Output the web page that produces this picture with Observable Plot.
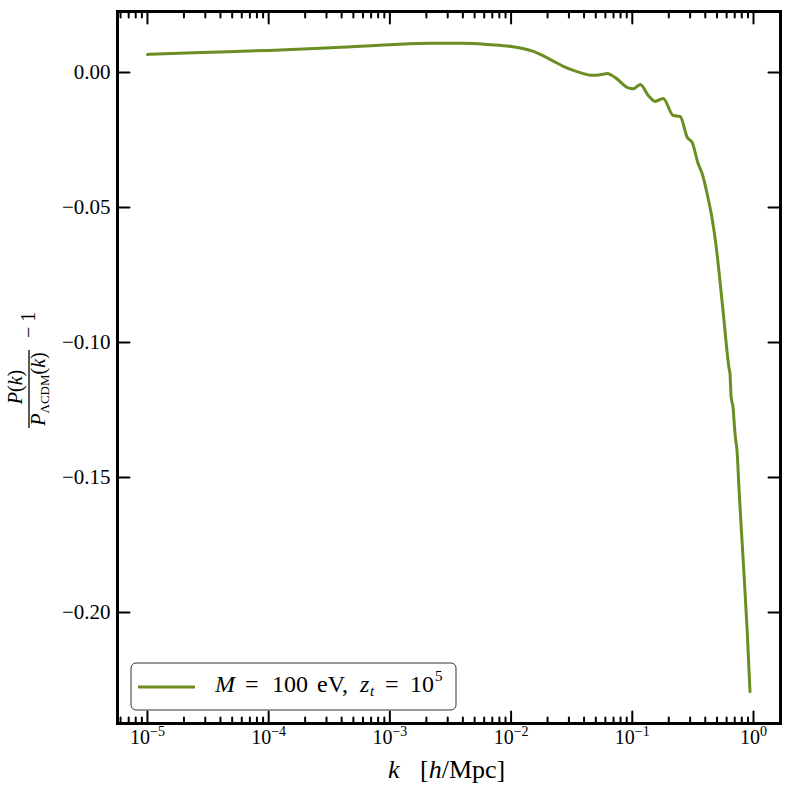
<!DOCTYPE html>
<html><head><meta charset="utf-8">
<script src="https://cdn.jsdelivr.net/npm/d3@7"></script>
<script src="https://cdn.jsdelivr.net/npm/@observablehq/plot@0.6"></script>
<style>body{margin:0;background:#fff} svg{font-family:"Liberation Serif",serif}</style>
</head><body><div id="chart"></div>
<script>
// log10(k [h/Mpc]) and P(k)/P_LCDM(k) - 1
const logK = [-5.0,-4.556,-3.996,-3.486,-3.0,-2.663,-2.416,-2.169,-1.996,-1.815,-1.675,-1.535,-1.403,-1.346,-1.263,-1.206,-1.14,-1.033,-0.992,-0.934,-0.868,-0.811,-0.745,-0.663,-0.605,-0.547,-0.506,-0.457,-0.424,-0.383,-0.342,-0.309,-0.276,-0.243,-0.218,-0.202,-0.194,-0.185,-0.169,-0.152,-0.144,-0.136,-0.119,-0.086,-0.053,-0.029];
const ratio = [0.0067,0.0074,0.0082,0.0092,0.0103,0.0108,0.0108,0.0103,0.0096,0.0078,0.0048,0.0016,-0.0004,-0.0010,-0.0008,-0.0004,-0.0019,-0.0057,-0.0060,-0.0044,-0.0085,-0.0107,-0.0096,-0.0159,-0.0163,-0.0240,-0.0259,-0.0337,-0.0374,-0.0448,-0.0540,-0.0640,-0.0775,-0.0920,-0.1035,-0.1095,-0.1115,-0.1200,-0.1240,-0.1340,-0.1370,-0.1400,-0.1548,-0.1800,-0.2060,-0.2293];
const xMajor = [1e-5,1e-4,1e-3,1e-2,1e-1,1];
const xMinor = [6e-6,7e-6,8e-6,9e-6,
  2e-5,3e-5,4e-5,5e-5,6e-5,7e-5,8e-5,9e-5,
  2e-4,3e-4,4e-4,5e-4,6e-4,7e-4,8e-4,9e-4,
  2e-3,3e-3,4e-3,5e-3,6e-3,7e-3,8e-3,9e-3,
  2e-2,3e-2,4e-2,5e-2,6e-2,7e-2,8e-2,9e-2,
  2e-1,3e-1,4e-1,5e-1,6e-1,7e-1,8e-1,9e-1];
const yTicks = [0,-0.05,-0.1,-0.15,-0.2];
const lineColor = "#6b8e23";

const data = logK.map((l,i)=>({k: Math.pow(10,l), r: ratio[i]}));

const tickOpts = {stroke:"black", strokeWidth:2, r:0, anchor:"start"};
const plot = Plot.plot({
  width: 790, height: 790,
  marginLeft: 117, marginRight: 10, marginTop: 11, marginBottom: 67,
  x: {type:"log", domain:[5.66e-6, 1.67]},
  y: {domain:[-0.2411, 0.0226]},
  style: {fontFamily:"Liberation Serif", background:"white", color:"black"},
  marks: [
    Plot.line(data, {x:"k", y:"r", stroke:lineColor, strokeWidth:3, curve:"monotone-x"}),
    Plot.vector(xMajor, {x:d=>d, frameAnchor:"bottom", rotate:0, length:12, ...tickOpts}),
    Plot.vector(xMinor, {x:d=>d, frameAnchor:"bottom", rotate:0, length:6, ...tickOpts}),
    Plot.vector(xMajor, {x:d=>d, frameAnchor:"top", rotate:180, length:12, ...tickOpts}),
    Plot.vector(xMinor, {x:d=>d, frameAnchor:"top", rotate:180, length:6, ...tickOpts}),
    Plot.vector(yTicks, {y:d=>d, frameAnchor:"left", rotate:90, length:12, ...tickOpts}),
    Plot.vector(yTicks, {y:d=>d, frameAnchor:"right", rotate:-90, length:12, ...tickOpts}),
    Plot.axisX({ticks:xMajor, tickSize:0, tickPadding:6, fontSize:20, label:null,
      tickFormat: d => "10^" + Math.round(Math.log10(d))}),
    Plot.axisY({ticks:yTicks, tickSize:0, tickPadding:7, fontSize:21, label:null,
      tickFormat: d => d === 0 ? "0.00" : "\u2212" + Math.abs(d).toFixed(2)}),
    Plot.frame({stroke:"black", strokeWidth:3})
  ]
});
document.getElementById("chart").appendChild(plot);

const svg = d3.select(plot);
// superscript exponents on x tick labels
svg.selectAll('g[aria-label="x-axis tick label"] text').each(function(){
  const t = this.textContent;
  const m = t.match(/^10\^(-?\d+)$/);
  if (!m) return;
  const e = m[1].replace("-", "\u2212");
  this.textContent = "10";
  const ts = document.createElementNS("http://www.w3.org/2000/svg","tspan");
  ts.setAttribute("dy","-8");
  ts.setAttribute("font-size","14");
  ts.textContent = e;
  this.appendChild(ts);
});

// x label
svg.append("text").attr("x",388).attr("y",778).attr("text-anchor","start")
  .attr("font-size",26).attr("font-family","Liberation Serif").attr("font-style","italic").text("k");
svg.append("text").attr("x",420).attr("y",778).attr("text-anchor","start")
  .attr("font-size",26).attr("font-family","Liberation Serif")
  .html('[<tspan font-style="italic">h</tspan>/Mpc]');

// y label (fraction)
const g = svg.append("g").attr("transform","translate(29,390) rotate(-90)")
  .attr("font-family","Liberation Serif").attr("fill","black");
g.append("text").attr("x",3).attr("y",-7).attr("text-anchor","middle").attr("font-size",20)
  .html('<tspan font-style="italic">P</tspan>(<tspan font-style="italic">k</tspan>)');
g.append("line").attr("x1",-38).attr("x2",40).attr("y1",0).attr("y2",0)
  .attr("stroke","black").attr("stroke-width",1.3);
g.append("text").attr("x",1).attr("y",16).attr("text-anchor","middle").attr("font-size",20)
  .html('<tspan font-style="italic">P</tspan><tspan font-size="13" dy="4">\u039BCDM</tspan><tspan dy="-4">(</tspan><tspan font-style="italic">k</tspan>)');
g.append("text").attr("x",52).attr("y",6).attr("text-anchor","start").attr("font-size",20)
  .html('\u2212<tspan dx="5">1</tspan>');

// legend
const lg = svg.append("g").attr("font-family","Liberation Serif").attr("text-anchor","start");
lg.append("rect").attr("x",131).attr("y",663).attr("width",325).attr("height",47).attr("rx",5)
  .attr("fill","white").attr("stroke","#333").attr("stroke-width",1);
lg.append("line").attr("x1",138).attr("x2",195).attr("y1",687).attr("y2",687)
  .attr("stroke",lineColor).attr("stroke-width",3);
lg.append("text").attr("y",692).attr("font-size",24).attr("text-anchor","start")
  .html('<tspan x="215" font-style="italic">M</tspan>'
      + '<tspan x="245">=</tspan>'
      + '<tspan x="272">100</tspan>'
      + '<tspan x="317">eV,</tspan>'
      + '<tspan x="360" font-style="italic">z</tspan>'
      + '<tspan x="370" font-style="italic" font-size="15" dy="4">t</tspan>'
      + '<tspan x="385" dy="-4">=</tspan>'
      + '<tspan x="410">10</tspan>'
      + '<tspan x="435" font-size="15" dy="-11">5</tspan>');
</script>
</body></html>
